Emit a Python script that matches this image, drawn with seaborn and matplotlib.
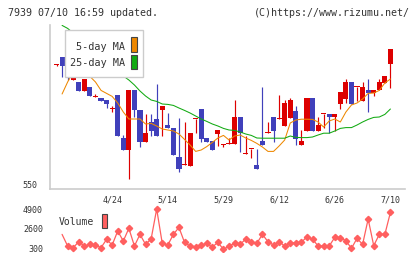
import numpy as np
import pandas as pd
import matplotlib
matplotlib.use("Agg")
import matplotlib.pyplot as plt
import seaborn as sns
from matplotlib.patches import Rectangle

sns.set_style("white")
plt.rcParams["font.family"] = ["DejaVu Sans Mono", "DejaVu Sans"]

# ---------------- data ----------------
opens = [609.5, 613.5, 612, 602.2, 601.2, 596.7, 598.7, 593.5, 592.9, 591.9,
         587.3, 594.5, 572.9, 567, 597, 587, 571.2, 581.2, 582.5, 587,
         579.5, 577.9, 563.7, 559.5, 559.2, 582.3, 587.5, 572.9, 571.7, 575,
         569.5, 569.8, 569.9, 583.5, 564.9, 567.3, 559.5, 571.5, 575.3, 583.5,
         582.3, 579, 583.2, 586.5, 569.7, 576.7, 593, 576.7, 584.8, 585,
         583.4, 590.2, 592.7, 601, 598.4, 591.7, 597, 595.7, 597, 600.5, 610.2]
closes = [609.8, 609.2, 607.4, 604, 596.7, 602.5, 594.2, 593.8, 591.5, 589.9,
          587.5, 574.2, 567, 597, 587, 571.2, 575.7, 576.7, 574.2, 589,
          578.2, 564.5, 557.5, 559.8, 575.7, 582.4, 572.5, 571.2, 567, 577,
          569.8, 570, 583.7, 575.4, 565, 567.4, 557.7, 569.7, 575.4, 576.7,
          582.4, 590.4, 592, 572.7, 571.5, 593, 576.7, 579.5, 584.9, 583.4,
          585, 596, 601, 590.2, 598.5, 598.5, 595.7, 597, 601, 604, 617.5]
highs = [610, 613.5, 612, 604, 601.2, 602.5, 598.7, 595, 592.9, 591.9,
         589, 594.5, 574.5, 597, 597, 587, 585, 585, 600, 589,
         585.7, 577.9, 582.9, 581.2, 575.7, 582.4, 587.5, 572.9, 571.7, 577,
         569.8, 572.9, 592, 583.5, 574.2, 567.4, 567.4, 598.7, 580.9, 583.5,
         594.5, 592, 592.9, 589.2, 577, 593, 593, 583.7, 584.9, 585,
         585, 596, 602.5, 601, 598.5, 601, 602.5, 597, 602.5, 604, 617.5]
lows = [609, 603.7, 602, 602.2, 596.7, 596.7, 594.2, 593.5, 591.5, 588.2,
        586.2, 574.2, 567, 552.4, 583.4, 568.7, 571.2, 574, 574.2, 574.2,
        578.2, 564.5, 556.2, 559.5, 559.2, 575.4, 571.2, 571.2, 567, 568.8,
        568.7, 569.8, 569.9, 565.9, 564.9, 563.2, 557.7, 569.7, 575.3, 571.2,
        582.3, 579, 583.2, 569.5, 569.7, 576.7, 576.7, 576.7, 578.2, 575.4,
        576.7, 587.4, 590.4, 590.2, 591.5, 591.7, 586.2, 594, 597, 600.5, 598.2]
ma5 = [np.nan, 595, 601, 606, 607, 606, 603.8, 601, 596.8, 595.3,
       593.8, 590.5, 586, 582.5, 582.5, 582.5, 580, 580.3, 579, 577.5,
       577, 576.5, 575, 572.3, 569.5, 566.3, 567, 568.7, 570.8, 573,
       574.3, 572, 574, 574.5, 573, 571.8, 570.3, 568.5, 566.3, 566.3,
       569, 572, 580.5, 582, 582.4, 582.4, 582.3, 581, 578.5, 581.5,
       582.5, 581, 586, 589.5, 590.5, 592.5, 595.3, 595.5, 596.8, 600.5, 602.5]
ma25 = [np.nan, 629.3, 627.8, 625.5, 623, 620.8, 618.3, 616, 613.5, 611,
        608.8, 606.5, 604, 602, 599.5, 596.5, 594, 592, 591.3, 590,
        589.8, 589.3, 588, 586.8, 585.5, 584, 582.5, 581.3, 580, 579,
        577.8, 577, 576.8, 576, 575, 574.3, 573, 572.9, 572.9, 572.9,
        572.9, 572.9, 574, 573.3, 573.2, 573.2, 573.5, 574.5, 575.4, 575.4,
        576.5, 577.8, 578.2, 578.2, 579.5, 581, 582.3, 583.3, 583.5, 584.8, 587.5]
volume = [np.nan, 1960, 610, 420, 1110, 610, 800, 725, 420, 1380,
          725, 2350, 1190, 2660, 610, 1960, 800, 1420, 4900, 920,
          725, 1960, 2770, 1035, 610, 530, 725, 920, 495, 1035,
          223, 610, 920, 800, 1420, 1035, 920, 1960, 1110, 725,
          1110, 610, 920, 1000, 1035, 1690, 1420, 610, 610, 610,
          1610, 1575, 1230, 340, 1500, 800, 3740, 650, 1960, 1960, 4510]
date_labels = ["4/24", "5/14", "5/29", "6/12", "6/26", "7/10"]
date_pos = [10, 20, 30, 40, 50, 60]
price_ticks = [550]
vol_ticks = [300, 2600, 4900]

df = pd.DataFrame({"day": np.arange(len(opens)), "open": opens, "close": closes,
                   "high": highs, "low": lows, "ma5": ma5, "ma25": ma25,
                   "volume": volume})

# ---------------- layout ----------------
W, H = 420, 259
fig = plt.figure(figsize=(W / 100, H / 100), dpi=100)
fig.patch.set_facecolor("white")

def rect(l, t, r, b):
    return [l / W, 1 - b / H, (r - l) / W, (b - t) / H]

RED = "#dd0000"
BLUE = "#4040bb"
ORANGE = "#ee8800"
GREEN = "#11aa11"
VOLC = "#ff5f5f"
GRID = "#cccccc"
TXT = "#333333"

ax = fig.add_axes(rect(50, 25, 405, 189))
axv = fig.add_axes(rect(50, 205, 405, 252))
xlim = (-1.17, 62.62)

# candles
up = df["close"] >= df["open"]
colors = np.where(up, RED, BLUE)
ax.vlines(df["day"], df["low"], df["high"], colors=colors, lw=0.85, zorder=3)
body_bottom = np.minimum(df["open"], df["close"])
body_h = np.maximum(np.abs(df["close"] - df["open"]), 0.6)
ax.bar(df["day"], body_h, bottom=body_bottom, width=0.92, color=colors,
       linewidth=0, zorder=4)

# moving averages
sns.lineplot(data=df, x="day", y="ma5", ax=ax, color=ORANGE, lw=0.75,
             estimator=None, zorder=5)
sns.lineplot(data=df, x="day", y="ma25", ax=ax, color=GREEN, lw=0.75,
             estimator=None, zorder=5)

ax.set_xlim(*xlim)
ax.set_ylim(547.5, 629.5)
for s in ["top", "right"]:
    ax.spines[s].set_visible(False)
for s in ["left", "bottom"]:
    ax.spines[s].set_color(GRID)
    ax.spines[s].set_linewidth(1.2)
major = np.linspace(xlim[0], xlim[1], 12)
ax.set_xticks(major)
ax.set_xticklabels([""] * len(major))
ax.tick_params(axis="x", which="major", direction="in", length=4, width=1.2,
               color=GRID)
ax.set_xticks(date_pos, minor=True)
ax.set_xticklabels(date_labels, minor=True)
ax.tick_params(axis="x", which="minor", length=0, pad=5, labelsize=6,
               labelcolor=TXT)
ax.set_yticks(price_ticks)
ax.set_yticklabels([str(t) for t in price_ticks])
ax.tick_params(axis="y", direction="out", length=3, width=1, color=GRID,
               pad=6, labelsize=6, labelcolor=TXT)
ax.set_xlabel("")
ax.set_ylabel("")

# volume
sns.lineplot(data=df, x="day", y="volume", ax=axv, color=VOLC, lw=0.9,
             estimator=None)
vm = df.iloc[2:]
axv.plot(vm["day"], vm["volume"], ls="none", marker="D", ms=3.2, color=VOLC)
axv.set_xlim(*xlim)
axv.set_ylim(-82, 5364)
for s in axv.spines.values():
    s.set_visible(False)
axv.set_xticks([])
axv.set_yticks(vol_ticks)
axv.set_yticklabels([str(t) for t in vol_ticks])
axv.tick_params(axis="y", length=0, pad=5, labelsize=6, labelcolor=TXT)
axv.set_xlabel("")
axv.set_ylabel("")

# legend of price panel (drawn in figure pixels)
def fpatch(l, t, r, b, **kw):
    p = Rectangle((l / W, 1 - b / H), (r - l) / W, (b - t) / H,
                  transform=fig.transFigure, **kw)
    fig.patches.append(p)

fpatch(65, 30, 143, 77, facecolor="white", edgecolor=GRID, lw=1.0, zorder=10)
fig.text(125 / W, 1 - 46.7 / H, "5-day MA", ha="right", va="center",
         fontsize=7.3, color=TXT, zorder=11)
fig.text(125 / W, 1 - 63.3 / H, "25-day MA", ha="right", va="center",
         fontsize=7.3, color=TXT, zorder=11)
fpatch(130.7, 37.5, 137.3, 52.3, facecolor=ORANGE, edgecolor="#444444",
       lw=0.8, zorder=11)
fpatch(130.7, 54.5, 137.3, 69, facecolor=GREEN, edgecolor="#444444",
       lw=0.8, zorder=11)

# volume legend
fig.text(59 / W, 1 - 222 / H, "Volume", ha="left", va="center",
         fontsize=7.0, color=TXT)
fpatch(101.7, 213.5, 107.3, 227.7, facecolor=VOLC, edgecolor="#444444",
       lw=0.8, zorder=11)

# header texts
fig.text(8 / W, 1 - 13 / H, "7939 07/10 16:59 updated.", ha="left",
         va="center", fontsize=7.2, color=TXT)
fig.text(410 / W, 1 - 13 / H, "(C)https://www.rizumu.net/", ha="right",
         va="center", fontsize=7.2, color=TXT)

fig.savefig("out.png", dpi=100, facecolor="white")
